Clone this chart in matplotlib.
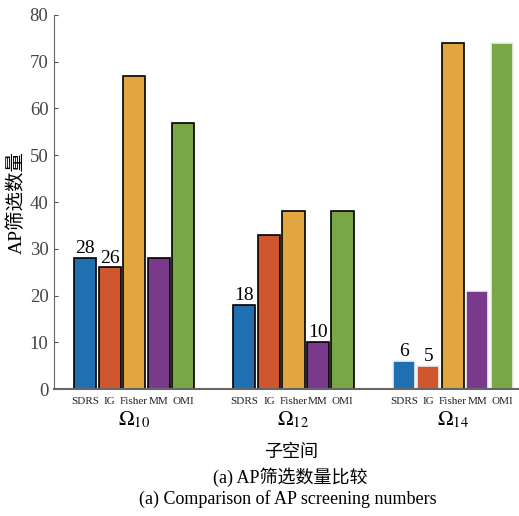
import matplotlib
matplotlib.use("Agg")
import matplotlib.pyplot as plt
import matplotlib.transforms as mtransforms
import numpy as np

plt.rcParams['font.family'] = ['Liberation Serif', 'Noto Sans CJK SC']
plt.rcParams['mathtext.fontset'] = 'stix'

# data
groups = [r'$\Omega_{10}$', r'$\Omega_{12}$', r'$\Omega_{14}$']
methods = ['SDRS', 'IG', 'Fisher', 'MM', 'OMI']
sdrs = [28, 18, 6]
ig = [26, 33, 5]
fisher = [67, 38, 74]
mm = [28, 10, 21]
omi = [57, 38, 74]
# which bars carry a value label: (group index, method index)
labelled = [(0, 0), (0, 1), (1, 0), (1, 3), (2, 0), (2, 1)]

colors = ['#1f6fb1', '#d0562f', '#e1a63f', '#7a3a8c', '#79a646']

series = [sdrs, ig, fisher, mm, omi]
group_pos = np.array([0.0, 6.5, 13.0])
offsets = np.arange(len(methods)) - 2
width = 0.9

fig = plt.figure(figsize=(5.19, 5.16), dpi=100)
ax = fig.add_axes([0.104, 0.246, 0.896, 0.725])

for j, vals in enumerate(series):
    for g in range(len(groups)):
        # last group has black outline only on Fisher bar
        edge = 'black' if (g < 2 or j == 2) else '#f0f0f0'
        ax.bar(group_pos[g] + offsets[j], vals[g], width=width,
               color=colors[j], edgecolor=edge, linewidth=1.2, zorder=2)

for g, j in labelled:
    v = series[j][g]
    ax.text(group_pos[g] + offsets[j], v + 0.2, str(v), ha='center', va='bottom',
            fontsize=14)

trans = mtransforms.blended_transform_factory(ax.transData, ax.transAxes)
for g in range(len(groups)):
    for j, m in enumerate(methods):
        ax.text(group_pos[g] + offsets[j], -0.032, m, transform=trans,
                ha='center', va='center', fontsize=8, color='#222222')

ax.set_xlim(-3.27, 15.7)
ax.set_ylim(0, 80)
ax.set_yticks(np.arange(0, 81, 10))
ax.set_xticks(group_pos)
ax.set_xticklabels(groups, fontsize=15)
ax.tick_params(axis='x', direction='in', length=4, pad=15, color='#555555')
ax.tick_params(axis='y', direction='in', length=3, labelsize=13.5, colors='#444444',
               color='#555555', pad=4)
for s in ['top', 'right']:
    ax.spines[s].set_visible(False)
ax.spines['left'].set_color('#666666')
ax.spines['bottom'].set_color('#666666')
ax.spines['bottom'].set_linewidth(1.5)
ax.set_ylabel('AP筛选数量', fontsize=14, labelpad=3)

fig.text(0.56, 0.124, '子空间', ha='center', va='center', fontsize=13)
fig.text(0.56, 0.076, '(a) AP筛选数量比较', ha='center', va='center', fontsize=13)
fig.text(0.555, 0.033, '(a) Comparison of AP screening numbers', ha='center',
         va='center', fontsize=13)

fig.savefig('out.png', dpi=100)
